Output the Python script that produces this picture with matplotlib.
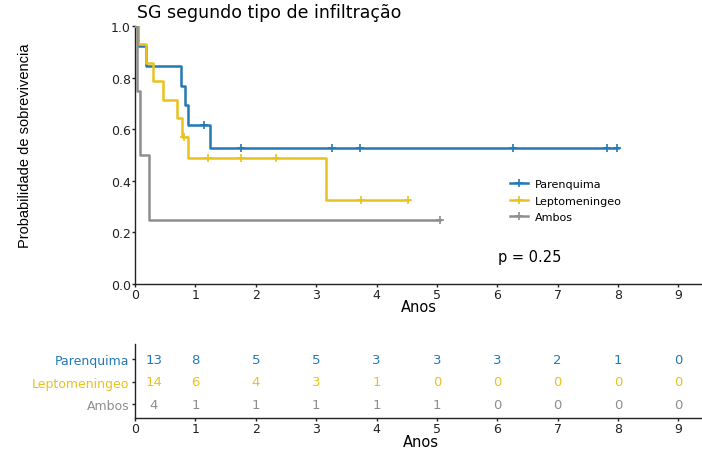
import numpy as np
import matplotlib.pyplot as plt
from matplotlib.lines import Line2D

plt.rcParams['font.family'] = ['DejaVu Sans']

# degraus das curvas (tempo em anos, probabilidade)
parenquima_t = [0, 0.05, 0.19, 0.77, 0.83, 0.87, 1.25, 8.0]
parenquima_s = [1.0, 0.923, 0.846, 0.769, 0.692, 0.615, 0.527, 0.527]
parenquima_cens = [1.14, 1.75, 3.27, 3.72, 6.26, 7.82, 7.98]

lepto_t = [0, 0.05, 0.18, 0.30, 0.46, 0.69, 0.78, 0.88, 3.17, 4.52]
lepto_s = [1.0, 0.929, 0.857, 0.786, 0.714, 0.643, 0.571, 0.49, 0.327, 0.327]
lepto_cens = [0.81, 1.21, 1.75, 2.33, 3.75, 4.52]

ambos_t = [0, 0.04, 0.08, 0.23, 5.05]
ambos_s = [1.0, 0.75, 0.5, 0.25, 0.25]
ambos_cens = [5.05]

grupos = ['Parenquima', 'Leptomeningeo', 'Ambos']
cores = ['#2479B5', '#E8C21E', '#8E8E8E']

# numero em risco
anos = [0, 1, 2, 3, 4, 5, 6, 7, 8, 9]
risco_parenquima = [13, 8, 5, 5, 3, 3, 3, 2, 1, 0]
risco_lepto = [14, 6, 4, 3, 1, 0, 0, 0, 0, 0]
risco_ambos = [4, 1, 1, 1, 1, 1, 0, 0, 0, 0]

p_valor = 0.25

W, H = 702, 452
fig = plt.figure(figsize=(W / 100, H / 100), dpi=100)


def eixos(a):
    for lado in ['top', 'right']:
        a.spines[lado].set_visible(False)
    for lado in ['left', 'bottom']:
        a.spines[lado].set_linewidth(1.0)
        a.spines[lado].set_color('#222222')
    a.tick_params(length=2.5, width=1, pad=0.5, labelsize=9, colors='#222222')


ax = fig.add_axes([135 / W, 1 - 285 / H, (W - 135) / W, 258 / H])
curvas = [(parenquima_t, parenquima_s, parenquima_cens),
          (lepto_t, lepto_s, lepto_cens),
          (ambos_t, ambos_s, ambos_cens)]
for k in [2, 1, 0]:
    t, s, cens = curvas[k]
    ax.step(t, s, where='post', color=cores[k], lw=1.8, zorder=3 + k)
    idx = np.searchsorted(t, cens, side='right') - 1
    ax.plot(cens, np.array(s)[idx], '+', color=cores[k], ms=6, mew=1.2, zorder=3 + k)

ax.set_xlim(0, 9.39)
ax.set_ylim(0, 1.0)
ax.set_xticks(anos)
ax.set_yticks([0, 0.2, 0.4, 0.6, 0.8, 1.0])
ax.set_yticklabels(['0.0', '0.2', '0.4', '0.6', '0.8', '1.0'])
eixos(ax)

handles = [Line2D([], [], color=cores[k], lw=1.8, marker='+', ms=6, mew=1.2) for k in range(3)]
ax.legend(handles, grupos, loc='upper left', bbox_to_anchor=(510 / W, 1 - 180 / H),
          bbox_transform=fig.transFigure, frameon=False, borderpad=0, borderaxespad=0,
          fontsize=8, handlelength=1.6, handletextpad=0.6, labelspacing=0.6)

ax.text(6.54, 0.105, 'p = %.2f' % p_valor, ha='center', va='center', fontsize=10.5)

fig.text(137 / W, 1 - 13 / H, 'SG segundo tipo de infiltração', ha='left', va='center', fontsize=12.5)
fig.text(25 / W, 1 - 146 / H, 'Probabilidade de sobrevivencia', rotation=90, ha='center',
         va='center', fontsize=10.5, family=['Liberation Sans', 'DejaVu Sans'])
fig.text(419 / W, 1 - 307.5 / H, 'Anos', ha='center', va='center', fontsize=10.5)

# tabela de risco
tab = fig.add_axes([135 / W, 1 - 419 / H, (W - 135) / W, 74 / H])
tab.set_xlim(0, 9.39)
tab.set_ylim(0.38, 3.67)
linhas = [risco_parenquima, risco_lepto, risco_ambos]
for k, vals in enumerate(linhas):
    for a, v in zip(anos, vals):
        # a primeira coluna fica um pouco afastada do eixo
        xa = a if a > 0 else 0.31
        tab.text(xa, 3 - k, str(v), color=cores[k], ha='center', va='center', fontsize=9.5)
tab.set_xticks(anos)
tab.set_yticks([3, 2, 1])
tab.set_yticklabels(grupos)
eixos(tab)
tab.tick_params(axis='y', pad=1.5)
for k, lbl in enumerate(tab.get_yticklabels()):
    lbl.set_color(cores[k])
fig.text(421 / W, 1 - 443 / H, 'Anos', ha='center', va='center', fontsize=10.5)

plt.savefig('out.png', dpi=100)
